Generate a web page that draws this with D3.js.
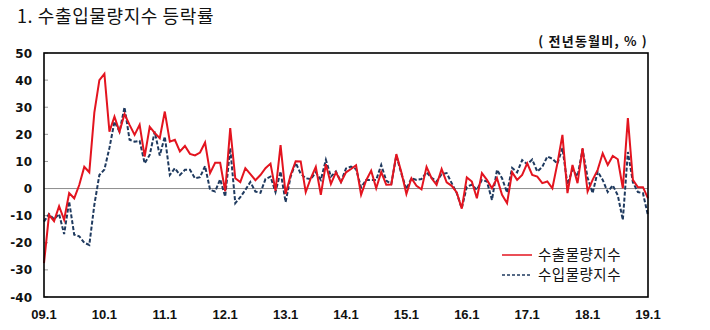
<!DOCTYPE html>
<html>
<head>
<meta charset="utf-8">
<script src="https://cdn.jsdelivr.net/npm/d3@7"></script>
<style>
  body { margin: 0; background: #fff; }
  svg { display: block; }
</style>
</head>
<body>
<div id="chart"></div>
<script>
// months 2009.1 .. 2019.1
const months = [];
for (let y = 2009; y <= 2019; y++) {
  for (let m = 1; m <= 12; m++) {
    if (y === 2019 && m > 1) break;
    months.push(String(y).slice(2) + '.' + m);
  }
}

const tickLabels = ['09.1','10.1','11.1','12.1','13.1','14.1','15.1','16.1','17.1','18.1','19.1'];
const yTicks = [-40, -30, -20, -10, 0, 10, 20, 30, 40, 50];

// 수출물량지수 (전년동월비, %)
const exportVals = [
  -27.5, -9.7, -12, -6.5, -11.5, -1.7, -3.6, 1.3, 8, 6,
  28, 40, 42.3, 21, 26.5, 21, 27.5, 23.5, 19.8, 23.5,
  11.8, 22.8, 20.5, 18.6, 28.4, 17.3, 18, 13.7, 15.7, 12.8,
  12.2, 13.3, 17, 5.7, 9.5, 9.5, -1, 22.3,
  3.8, 2.4, 7.5, 5.3, 3.1, 5, 7.5, 9.2, -0.8, 16,
  -2, 5, 10.1, 10, -1.3, 3.8, 8, -2.3, 9, 1.7,
  6, 2.3, 6, 7.2, 8.6, -2.3, 3, 6.6, 0.1, 6.1,
  1.4, 1.5, 12.7, 6, -2, 3.8, 1, -0.3, 8, 3.8,
  1.4, 7.2, 2.3, 1, -1.4,
  -7.4, 4.1, 2.6, -3.6, 5.7, 3.2, 0.1, 3.8, -2.3, -5.4,
  6, 3.2, 5, 9.3, 5, 4.4, 2, 2.6, 0.1, 9.3,
  19.8, -1.7, 8.7, 2, 14.9, -1.1, 3.2, 6.9, 13, 8.7,
  12, 10.8, 0.1, 26, 3.2, 0.5, 0.5, -3.6
];

// 수입물량지수 (전년동월비, %)
const importVals = [
  -12.2, -9.4, -11.3, -9.4, -16.8, -4.8, -17, -17.6, -20, -20.8,
  -6, 5, 7, 15, 24.7, 21, 30, 18, 17.3, 17.6,
  9.3, 12.4, 21, 12.2, 19.2, 5, 7.5, 5, 6.9, 6.9,
  3.8, 4.2, 8.3, -0.5, -1.1, 3.4, -3, 14.9,
  -5.4, -3.2, -0.5, 2.4, -1.1, -1.6, 3.5, 4.4, -1.3, 6.3,
  -5, 4.4, 9.5, 5.5, 3.8, 3.5, 6, 3.2, 10.6, 4.4,
  6.3, 2.5, 7.4, 8.1, 7.2, 0.4, 3.2, 3.2, 3.2, 8.7,
  2.9, 1.7, 12.2, 5.5, -0.2, 3.8, 3.2, 3.5, 6, 4,
  2.6, 5.3, 5.7, 2, -1.7,
  -7.3, 0.7, 1.4, -0.5, 3.2, 2.6, -4.2, 6.9, 3.8, -1.5,
  7.6, 6, 10.5, 9, 10.7, 6.3, 8, 11.8, 11, 9.2,
  14.9, 1.5, 7, 4.5, 14.5, 4, -1.7, 6.3, 3.2, -1.3,
  1.2, -2.5, -11.6, 13.5, 2.3, -1.3, -1.7, -10
];

const seriesNames = ['수출물량지수', '수입물량지수'];

const width = 710, height = 330,
  margin = {top: 53, right: 62, bottom: 33, left: 44},
  innerWidth = width - margin.left - margin.right,
  innerHeight = height - margin.top - margin.bottom;

const svg = d3.select('#chart')
  .append('svg')
  .attr('width', width)
  .attr('height', height);

// title + unit
svg.append('text')
  .attr('x', 17).attr('y', 23)
  .style('font-family', '"Noto Sans CJK KR", sans-serif')
  .style('font-size', '18px')
  .style('letter-spacing', '0.6px')
  .style('fill', '#111')
  .text('1. 수출입물량지수  등락률');

svg.append('text')
  .attr('x', margin.left + innerWidth).attr('y', 46)
  .attr('text-anchor', 'end')
  .style('font-family', '"Noto Sans CJK KR", sans-serif')
  .style('font-size', '13px')
  .style('font-weight', 'bold')
  .style('letter-spacing', '1.2px')
  .style('fill', '#111')
  .text('( 전년동월비, % )');

const x = d3.scalePoint()
  .domain(months)
  .range([0, innerWidth]);

const y = d3.scaleLinear()
  .domain([-40, 50])
  .range([innerHeight, 0]);

const g = svg.append('g')
  .attr('transform', `translate(${margin.left},${margin.top})`);

// zero line
g.append('line')
  .attr('x1', 0).attr('x2', innerWidth)
  .attr('y1', y(0)).attr('y2', y(0))
  .style('stroke', '#8c8c8c')
  .style('stroke-width', 1);

// y ticks (inside) and labels
g.selectAll('.ytick')
  .data(yTicks)
  .enter()
    .append('line')
    .classed('ytick', true)
    .attr('x1', 0).attr('x2', 4)
    .attr('y1', d => y(d)).attr('y2', d => y(d))
    .style('stroke', '#999');

g.selectAll('.ylabel')
  .data(yTicks)
  .enter()
    .append('text')
    .classed('ylabel', true)
    .attr('x', -12)
    .attr('y', d => y(d) + 4.5)
    .attr('text-anchor', 'end')
    .style('font-family', '"DejaVu Sans", sans-serif')
    .style('font-size', '12px')
    .style('font-weight', 'bold')
    .style('fill', '#111')
    .text(d => d);

// x labels
g.selectAll('.xlabel')
  .data(tickLabels)
  .enter()
    .append('text')
    .classed('xlabel', true)
    .attr('x', d => x(d))
    .attr('y', innerHeight + 22)
    .attr('text-anchor', 'middle')
    .style('font-family', '"Liberation Sans", sans-serif')
    .style('font-size', '13px')
    .style('font-weight', 'bold')
    .style('fill', '#111')
    .text(d => d);

// lines
const line = d3.line()
  .x((d, i) => x(months[i]))
  .y(d => y(d));

g.append('path')
  .datum(importVals)
  .attr('d', line)
  .style('fill', 'none')
  .style('stroke', '#1f3a5f')
  .style('stroke-width', 2)
  .style('stroke-dasharray', '4,2');

g.append('path')
  .datum(exportVals)
  .attr('d', line)
  .style('fill', 'none')
  .style('stroke', '#e3141f')
  .style('stroke-width', 2);

// frame
g.append('rect')
  .attr('x', 0).attr('y', 0)
  .attr('width', innerWidth).attr('height', innerHeight)
  .style('fill', 'none')
  .style('stroke', '#000')
  .style('stroke-width', 1.6);

// legend
const legend = g.append('g')
  .attr('transform', `translate(${innerWidth - 146},${innerHeight - 42})`);

const legendStyles = [
  {color: '#e3141f', dash: null},
  {color: '#1f3a5f', dash: '3,2'}
];

seriesNames.forEach((name, i) => {
  const row = legend.append('g').attr('transform', `translate(0,${i * 20})`);
  row.append('line')
    .attr('x1', 0).attr('x2', 30)
    .attr('y1', 0).attr('y2', 0)
    .style('stroke', legendStyles[i].color)
    .style('stroke-width', 1.5)
    .style('stroke-dasharray', legendStyles[i].dash);
  row.append('text')
    .attr('x', 36).attr('y', 5)
    .style('font-family', '"Noto Sans CJK KR", sans-serif')
    .style('font-size', '14.5px')
    .style('letter-spacing', '0.5px')
    .style('fill', '#111')
    .text(name);
});
</script>
</body>
</html>
